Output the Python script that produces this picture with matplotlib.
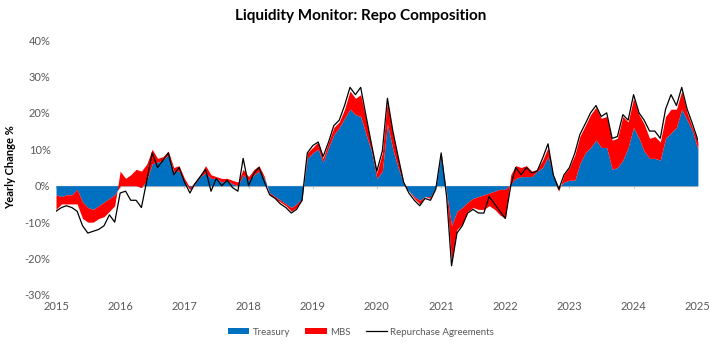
import numpy as np
import pandas as pd
import matplotlib
matplotlib.use("Agg")
import matplotlib.pyplot as plt
from matplotlib.patches import Patch
from matplotlib.lines import Line2D

plt.rcParams['font.family'] = ['Lato', 'DejaVu Sans']

# monthly readings, Jan 2015 .. Jan 2025 (yearly change, %)
dates = pd.date_range('2015-01-01', '2025-01-01', freq='MS')

treasury = [
    -2.5, -3, -2.5, -2.5, -1, -4.5, -6, -6.5, -5.5, -4.5, -3.5, -2.5,   # 2015
    0, 0, 0, 0, -0.5, 1.5, 6, 6.5, 7, 8.5, 4, 4,                        # 2016
    1, -1, 0.5, 2.5, 3.5, 2, 2, 1, 1.5, 0.5, 0, 3,                      # 2017
    1.5, 3, 4, 2, -2, -3, -4, -5, -6, -5, -3.5, 7.5,                    # 2018
    9, 10, 6.5, 10.5, 14, 16, 18.5, 21, 19.5, 19, 14, 9.5,              # 2019
    2, 4, 17, 10, 5, 0.5, -1.5, -3, -4, -3, -3, -0.5,                   # 2020
    8.5, -2, -11, -7, -6, -4.5, -3.5, -3, -2.5, -2, -1.5, -1,           # 2021
    -1, 0.5, 2, 2.5, 2.5, 2.5, 4, 5, 8, 3, -0.5, 1,                     # 2022
    1.5, 1.5, 6, 9, 10.5, 12.5, 10.5, 10.5, 4.5, 5, 7, 10.5,            # 2023
    16, 13, 9.5, 7.5, 7.5, 7, 13, 14.5, 16, 21, 18, 15,                 # 2024
    10,                                                                 # 2025
]

mbs = [
    -4, -2, -2.5, -2.5, -4, -4.5, -4, -3.5, -3.5, -4, -3.5, -3,
    4, 2, 3, 4.5, 4.5, 4.5, 4, 1, 1, 1, 1, 1.5,
    1, 0.5, 0.5, 0.5, 2, 1, 0.5, 1, 0.5, 1, 1, 1.5,
    1, 1.5, 1.5, 0.5, -0.5, -0.5, -0.5, -0.5, -1, -1, -0.5, 1.5,
    1.5, 2, 1, 1.5, 2, 1.5, 2.5, 5, 4.5, 6, 4, 1.5,
    1.5, 5, 6.5, 4, 2.5, 0.5, 0, -0.5, -1, 0, -0.5, 0,
    0.5, -0.5, -10, -5, -4.5, -2.5, -2.5, -3.5, -4, -3.5, -5, -7,
    -8, 2.5, 3.5, 2.5, 3, 1.5, 0.5, 2, 2.5, 0, -1, 2,
    3.5, 7, 7.5, 7.5, 9, 9, 8, 8.5, 8, 8, 12, 7,
    8, 6.5, 7.5, 5.5, 6, 5, 6, 6.5, 5, 5, 2, 1,
    2,
]

repo = [
    -7, -6, -5.5, -6, -7, -11, -13, -12.5, -12, -11, -8, -10,
    -2, -1.5, -4, -4, -6, 1.5, 9, 5, 7, 9, 3, 5,
    1, -2, 0.5, 2.5, 4.5, -1.5, 2, 0, 1.5, -0.5, -1.5, 7.5,
    0, 3.5, 5, 1, -2.5, -3.5, -5, -6, -7.5, -6.5, -4, 9,
    11, 12, 8, 12, 16.5, 18, 22, 27, 25, 27, 19, 11.5,
    4, 9.5, 24, 15, 8, 1, -2, -4, -5.5, -3.5, -4, -1,
    9, -3, -22, -13, -11, -7.5, -6.5, -7.5, -7.5, -3, -5, -7,
    -9, 0, 5, 3, 5, 3.5, 4, 7.5, 11.5, 3, -1, 3,
    5, 9, 14, 17, 20, 22, 19, 20, 13, 13.5, 19.5, 18,
    25, 20, 18, 15, 15, 13, 21, 25, 22, 27, 21, 17,
    12.5,
]

years = list(range(2015, 2026))

t = np.array(treasury) / 100
m = np.array(mbs) / 100
r = np.array(repo) / 100

BLUE = '#0070C0'
RED = '#FF0000'
GREY = '#595959'

fig = plt.figure(figsize=(7.22, 3.54), dpi=100)
ax = fig.add_axes([0.0776, 0.1667, 0.889, 0.7203])

ax.fill_between(dates, 0, t, color=BLUE, linewidth=0)
ax.fill_between(dates, t, t + m, color=RED, linewidth=0)
ax.plot(dates, r, color='black', linewidth=0.9)
ax.axhline(0, color='#BFBFBF', linewidth=0.9, zorder=0.5)

year_ts = [pd.Timestamp(f'{y}-01-01') for y in years]
# little year ticks hanging from the zero line
ax.vlines(year_ts, -0.006, 0, color='#BFBFBF', linewidth=0.9, zorder=0.5)

ax.set_ylim(-0.3, 0.4)
ax.set_yticks(np.arange(-0.3, 0.41, 0.1))
ax.set_yticklabels([f'{v:.0f}%' for v in np.arange(-30, 41, 10)])
ax.set_xlim(year_ts[0], year_ts[-1])
ax.set_xticks(year_ts)
ax.set_xticklabels([str(y) for y in years])
ax.tick_params(axis='both', length=0, labelsize=8, colors=GREY, pad=4)
for s in ax.spines.values():
    s.set_visible(False)

ax.set_ylabel('Yearly Change %', fontsize=8, fontweight='bold', color='black', labelpad=6)
fig.suptitle('Liquidity Monitor: Repo Composition', fontsize=11, fontweight='bold', y=0.975)

handles = [Patch(facecolor=BLUE, label='Treasury'),
           Patch(facecolor=RED, label='MBS'),
           Line2D([], [], color='black', linewidth=0.9, label='Repurchase Agreements')]
leg = fig.legend(handles=handles, loc='center', bbox_to_anchor=(0.5, 0.062), ncol=3,
                 frameon=False, fontsize=7, handlelength=2.2, handleheight=0.6,
                 columnspacing=1.6, handletextpad=0.3)
for txt in leg.get_texts():
    txt.set_color(GREY)

fig.savefig('out.png', dpi=100)
